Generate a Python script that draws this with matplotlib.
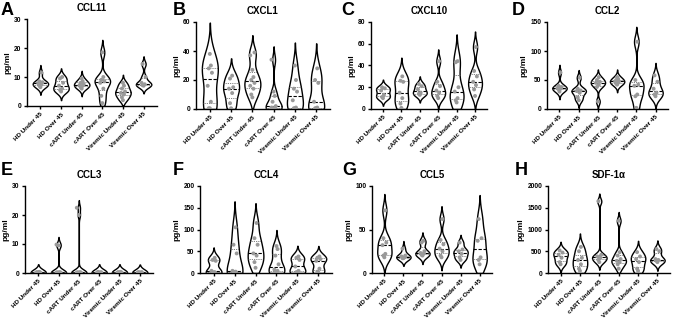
import numpy as np
import matplotlib
matplotlib.use("Agg")
import matplotlib.pyplot as plt

plt.rcParams['font.family'] = ['Liberation Sans', 'DejaVu Sans']
plt.rcParams['font.weight'] = 'bold'

groups = ["HD Under 45", "HD Over 45", "cART Under 45", "cART Over 45",
          "Viremic Under 45", "Viremic Over 45"]

# values (pg/ml), one list per group
ccl11 = [[11.5, 8.2, 7.8, 7.4, 7.0, 8.5, 6.5],
         [10.0, 9.5, 7.0, 6.0, 5.5, 5.0, 8.0],
         [9.5, 8.0, 7.5, 7.0, 6.5, 6.0, 7.2, 8.5],
         [18.5, 9.0, 8.5, 8.0, 6.0, 3.5, 1.0, 10.0],
         [8.0, 6.0, 5.0, 4.5, 4.0, 3.0, 2.0, 7.0],
         [14.5, 8.0, 7.5, 7.0, 7.2, 10.0]]
cxcl1 = [[38, 30, 28, 25, 16, 5, 0.5, 0.5],
         [23, 21, 15, 14, 11, 4, 0.5],
         [39, 37, 27, 22, 20, 18, 16, 14, 10, 8],
         [34, 12, 9, 5, 2, 1, 0.5, 0.5, 0.5],
         [30, 20, 14, 12, 6, 1, 0.5, 0.5],
         [28, 20, 18, 5, 1, 0.5, 0.5]]
cxcl10 = [[20, 19, 17, 13, 11, 10],
          [30, 26, 25, 15, 10, 5, 1],
          [23, 21, 18, 15, 14, 13],
          [44, 25, 21, 17, 15, 12, 10],
          [44, 43, 20, 16, 10, 8, 6],
          [57, 35, 30, 25, 22, 18, 12]]
ccl2 = [[63, 40, 38, 36, 35, 34, 30],
        [54, 35, 32, 31, 28, 20, 15],
        [55, 50, 47, 45, 42, 38, 13],
        [55, 52, 50, 48, 47, 45, 44, 42],
        [116, 50, 42, 40, 25, 22, 2],
        [58, 47, 35, 28, 25, 22]]
ccl3 = [[0.2, 0.1, 0.3, 0.2, 0.1, 0.2, 0.4],
        [9.8, 9.5, 0.1, 0.2, 0.1, 0.3, 0.2, 0.1, 0.2],
        [22.5, 20.0, 0.1, 0.2, 0.3, 0.1, 0.2, 0.1, 0.2],
        [0.3, 0.2, 0.1, 0.2, 0.4, 0.1],
        [0.2, 0.3, 0.1, 0.2, 0.4, 0.1, 0.2],
        [0.3, 0.2, 0.1, 0.3, 0.2, 0.1]]
ccl4 = [[35, 30, 28, 5, 2, 1, 1],
        [105, 65, 45, 5, 3, 2, 1],
        [115, 80, 65, 45, 40, 25, 12],
        [62, 55, 40, 20, 8, 5, 2, 1],
        [38, 35, 30, 15, 5, 2, 1],
        [38, 35, 32, 28, 10, 3, 1]]
ccl5 = [[72, 40, 35, 32, 22, 20, 18],
        [28, 20, 19, 18, 17, 17],
        [37, 35, 25, 23, 22, 21, 20],
        [62, 38, 33, 28, 25, 20, 18],
        [35, 27, 25, 22, 18, 15],
        [62, 40, 37, 18, 15, 10]]
sdf1a = [[520, 470, 420, 350, 250, 200],
         [600, 500, 350, 300, 200, 100, 50],
         [1650, 420, 380, 350, 300, 250],
         [1200, 480, 400, 320, 280, 250, 200, 100],
         [480, 380, 320, 250, 100, 50],
         [550, 500, 320, 300, 280, 250]]

panels = [
    ("A", "CCL11", ccl11, [0, 10, 20, 30]),
    ("B", "CXCL1", cxcl1, [0, 20, 40, 60]),
    ("C", "CXCL10", cxcl10, [0, 20, 40, 60, 80]),
    ("D", "CCL2", ccl2, [0, 50, 100, 150]),
    ("E", "CCL3", ccl3, [0, 10, 20, 30]),
    ("F", "CCL4", ccl4, [0, 50, 100, 150, 200]),
    ("G", "CCL5", ccl5, [0, 50, 100]),
    ("H", "SDF-1\u03b1", sdf1a, [0, 500, 1000, 1500, 2000]),
]

# axes boxes in pixels: left, right, top, bottom
boxes = [(27, 157, 19, 106), (196, 330, 22, 109), (371, 487, 22, 109), (547, 668, 22, 109),
         (25, 153, 186, 273), (200, 332, 186, 273), (372, 492, 186, 273), (548, 670, 186, 273)]
letter_pos = [(1, 2), (173, 2), (341, 2), (512, 2), (1, 162), (173, 162), (342, 162), (515, 162)]

W, H = 680, 321
fig = plt.figure(figsize=(W / 100, H / 100), dpi=100)


def kde_stats(vals, ymax):
    v = np.asarray(vals, dtype=float)
    n = len(v)
    q1, q3 = np.percentile(v, [25, 75])
    spread = min(v.std(ddof=1), (q3 - q1) / 1.34)
    bw = max(0.9 * spread * n ** -0.2, 0.035 * ymax)
    lo = max(0.0, v.min() - 2.5 * bw)
    hi = v.max() + 2.5 * bw
    y = np.linspace(lo, hi, 300)
    dens = np.exp(-0.5 * ((y[:, None] - v[None, :]) / bw) ** 2).sum(axis=1)
    return dict(coords=y, vals=dens, mean=v.mean(), median=np.median(v),
                min=v.min(), max=v.max(), quantiles=[])


width = 0.75
for (letter, title, data, yt), (l, r, t, b), (lx, ly) in zip(panels, boxes, letter_pos):
    ax = fig.add_axes([l / W, 1 - b / H, (r - l) / W, (b - t) / H])
    ymax = yt[-1]
    pos = np.arange(1, len(groups) + 1)
    stats = [kde_stats(g, ymax) for g in data]
    parts = ax.violin(stats, positions=pos, widths=width, showmeans=False,
                      showextrema=False, showmedians=False)
    for body in parts['bodies']:
        body.set_facecolor('white')
        body.set_edgecolor('black')
        body.set_linewidth(1.0)
        body.set_alpha(1)
        body.set_zorder(2)

    for p, st, g in zip(pos, stats, data):
        half = 0.5 * width * st['vals'] / st['vals'].max()
        med = np.median(g)
        q1, q3 = np.percentile(g, [25, 75])
        hm = np.interp(med, st['coords'], half)
        ax.hlines(med, p - hm, p + hm, colors='black', linestyles=(0, (3, 1.5)),
                  linewidth=0.8, zorder=3)
        for q in (q1, q3):
            hq = np.interp(q, st['coords'], half)
            ax.hlines(q, p - hq, p + hq, colors='#555555', linestyles=(0, (1, 1.2)),
                      linewidth=0.6, zorder=3)
        order = np.argsort(g)
        offs = np.array([0, -1, 1, -2, 2, -1, 1, 0, -2, 2])[:len(g)] * 0.05
        xs = np.empty(len(g))
        xs[order] = p + offs
        ax.scatter(xs, g, s=8, color='#999999', edgecolors='none', zorder=4)

    ax.set_xlim(0.35, 6.65)
    ax.set_ylim(0, ymax)
    ax.set_yticks(yt)
    ax.set_xticks(pos)
    ax.set_xticklabels(groups, rotation=45, ha='right', rotation_mode='anchor',
                       fontsize=4.6, fontweight='bold')
    ax.tick_params(axis='y', labelsize=4.8, width=1.0, length=2.5, pad=1.5)
    ax.tick_params(axis='x', width=1.0, length=2.5, pad=1.5)
    for lab in ax.get_yticklabels():
        lab.set_fontweight('bold')
    for s in ('top', 'right'):
        ax.spines[s].set_visible(False)
    for s in ('left', 'bottom'):
        ax.spines[s].set_linewidth(1.0)
    ax.set_ylabel('pg/ml', fontsize=6, fontweight='bold', labelpad=2)
    ax.set_title(title, fontsize=7, fontweight='bold', pad=6)
    fig.text(lx / W, 1 - ly / H, letter, fontsize=13, fontweight='bold',
             va='top', ha='left')

fig.savefig("out.png", dpi=100)
